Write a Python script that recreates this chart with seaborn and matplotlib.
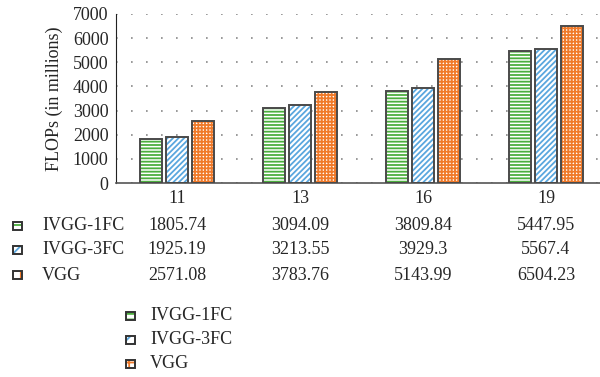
import numpy as np
import pandas as pd
import matplotlib
matplotlib.use('Agg')
import matplotlib.pyplot as plt
import seaborn as sns
from matplotlib.patches import Rectangle
import matplotlib.transforms as mtransforms

sns.set_style('white')
plt.rcParams['font.family'] = ['Liberation Serif', 'DejaVu Serif']
plt.rcParams['font.size'] = 13
plt.rcParams['hatch.linewidth'] = 1.3

# data
depths = ['11', '13', '16', '19']
models = ['IVGG-1FC', 'IVGG-3FC', 'VGG']
ivgg_1fc = [1805.74, 3094.09, 3809.84, 5447.95]
ivgg_3fc = [1925.19, 3213.55, 3929.3, 5567.4]
vgg = [2571.08, 3783.76, 5143.99, 6504.23]
value_labels = [['1805.74', '3094.09', '3809.84', '5447.95'],
                ['1925.19', '3213.55', '3929.3', '5567.4'],
                ['2571.08', '3783.76', '5143.99', '6504.23']]

hatches = ['-----', '//////', '+++++']
small_hatches = ['---', '///', '++']
hatch_colors = ['#4caf3e', '#5aa7de', '#f07a2a']
outline = '#4a4a4a'

df = pd.DataFrame({
    'depth': depths * 3,
    'model': [m for m in models for _ in depths],
    'flops': ivgg_1fc + ivgg_3fc + vgg,
})

W, H = 600, 377
fig = plt.figure(figsize=(W / 100, H / 100), dpi=100)
ax = fig.add_axes([115.5 / W, 1 - 183 / H, 492 / W, 169 / H])

sns.barplot(data=df, x='depth', y='flops', hue='model', order=depths,
            hue_order=models, palette=['white'] * 3, width=0.63, gap=0.14,
            legend=False, ax=ax, err_kws={'linewidth': 0})

for cont, h, c in zip(ax.containers, hatches, hatch_colors):
    for bar in cont:
        bar.set_hatch(h)
        bar.set_edgecolor(c)
        bar.set_linewidth(0)
        ax.add_patch(Rectangle(bar.get_xy(), bar.get_width(), bar.get_height(),
                               fill=False, edgecolor=outline, lw=1.4, zorder=3))

ax.set_ylim(0, 7000)
ax.set_xlim(-0.5, 3.5)
ax.set_yticks(range(0, 7001, 1000))
ax.yaxis.grid(True, linestyle=(0, (1, 8)), color='#888888', linewidth=1.2)
ax.set_axisbelow(True)
for s in ['top', 'right']:
    ax.spines[s].set_visible(False)
ax.spines['left'].set_color('#222222')
ax.spines['bottom'].set_color('#555555')
ax.spines['bottom'].set_linewidth(1.2)
ax.tick_params(axis='both', length=0, pad=5)
ax.tick_params(axis='x', pad=5)
ax.set_xlabel('')
ax.set_ylabel('FLOPs (in millions)', labelpad=7)


def swatch(x, yf, i):
    fig.patches.append(Rectangle((x / W, yf - 4 / H), 9 / W, 8 / H,
                                 transform=fig.transFigure, facecolor='white',
                                 edgecolor=hatch_colors[i], hatch=small_hatches[i],
                                 lw=0))
    fig.patches.append(Rectangle((x / W, yf - 4 / H), 9 / W, 8 / H,
                                 transform=fig.transFigure, fill=False,
                                 edgecolor='#333333', lw=1.4))


# data table under the chart
trans = mtransforms.blended_transform_factory(ax.transData, fig.transFigure)
row_y = [226, 250, 275]
for i, m in enumerate(models):
    yf = 1 - row_y[i] / H
    swatch(13, yf, i)
    fig.text(42 / W, yf, m, ha='left', va='center')
    for j, v in enumerate(value_labels[i]):
        ax.text(j, yf, v, transform=trans, ha='center', va='center', clip_on=False)

# legend
leg_y = [316, 340, 364]
for i, m in enumerate(models):
    yf = 1 - leg_y[i] / H
    swatch(126, yf, i)
    fig.text(150 / W, yf, m, ha='left', va='center')

fig.savefig('out.png', dpi=100)
